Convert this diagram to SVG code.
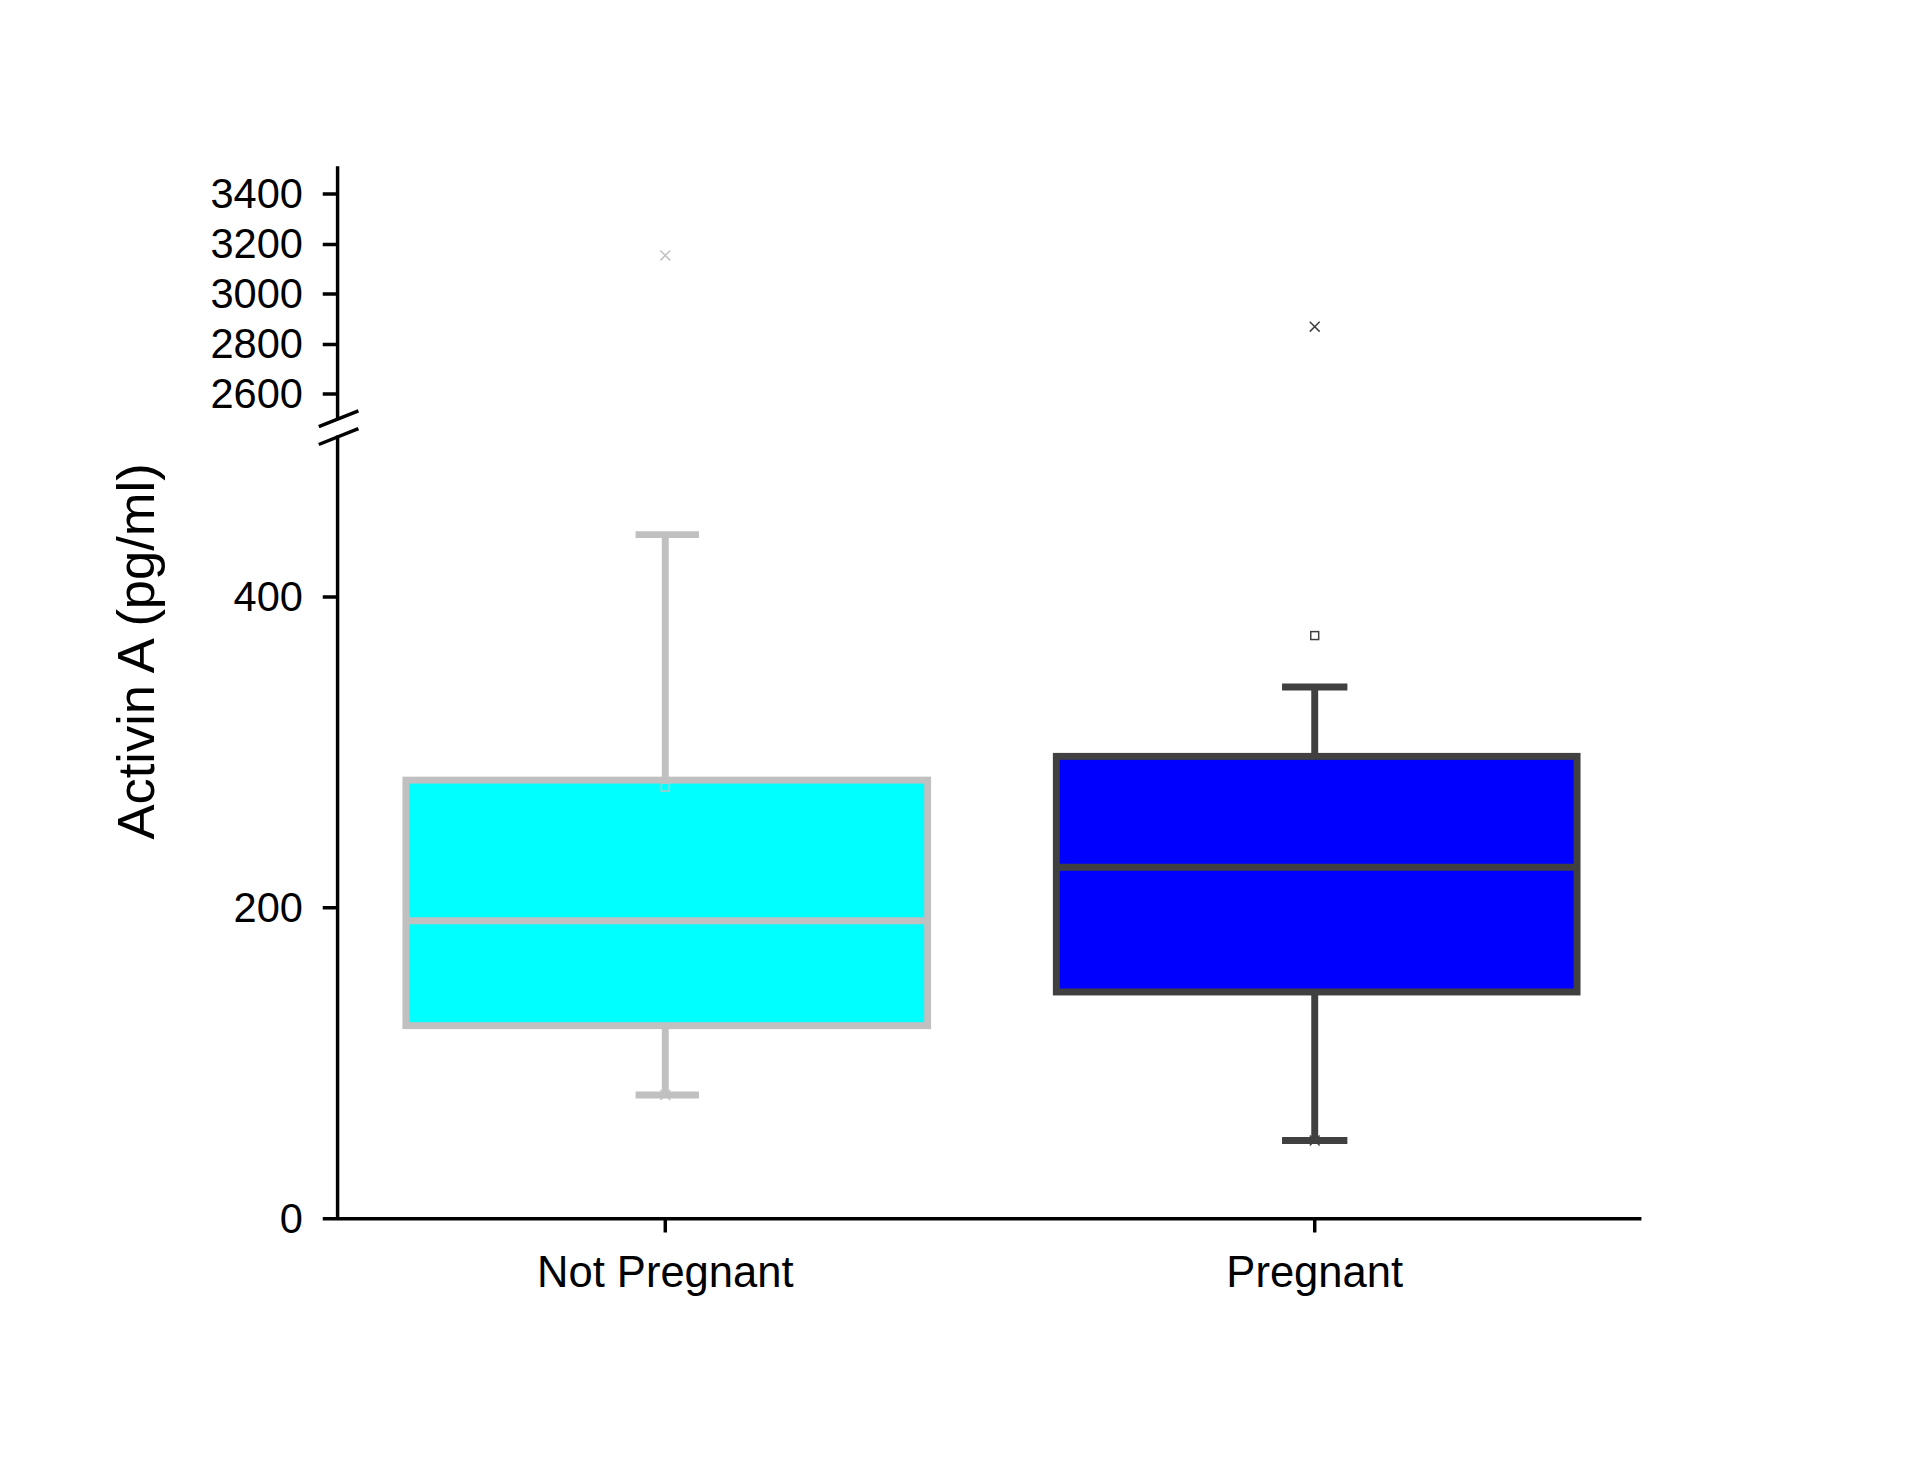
<svg xmlns="http://www.w3.org/2000/svg" width="1910" height="1464" viewBox="0 0 1910 1464">
<style>
text{font-family:"Liberation Sans",Arial,sans-serif;fill:#000}
.t{font-size:42px;text-anchor:end}
.c{font-size:44px;text-anchor:middle}
.ax{stroke:#000;stroke-width:3.5;fill:none}
.g1{stroke:#c0c0c0;stroke-width:7;fill:none}
.g2{stroke:#404040;stroke-width:7;fill:none}
.f1{fill:#00ffff}
.f2{fill:#0000ff}
</style>
<rect width="1910" height="1464" fill="#fff"/>
<g transform="scale(0.99)">
<g id="axes">
<path class="ax" d="M341 168V423M341 440V1231M326 1231H1658M326 196H341M326 247H341M326 297H341M326 348H341M326 398H341M326 603H341M326 917H341M672 1231V1245M1328 1231V1245"/>
<path class="ax" d="M322 431L362 415M322 449L362 433" stroke-width="4"/>
<text class="t" x="306" y="210">3400</text>
<text class="t" x="306" y="261">3200</text>
<text class="t" x="306" y="311">3000</text>
<text class="t" x="306" y="362">2800</text>
<text class="t" x="306" y="412">2600</text>
<text class="t" x="306" y="617">400</text>
<text class="t" x="306" y="931">200</text>
<text class="t" x="306" y="1245">0</text>
<text class="c" x="672" y="1300">Not Pregnant</text>
<text class="c" x="1328" y="1300">Pregnant</text>
<text x="0" y="0" font-size="53" text-anchor="middle" transform="translate(156 658) rotate(-90)">Activin A (pg/ml)</text>
</g>
<g id="not-pregnant">
<path class="g1" d="M672 540V788M672 1036V1106M642 540H706M642 1106H706"/>
<rect x="410" y="788" width="527" height="248" class="g1 f1"/>
<path class="g1" d="M410 930H937"/>
<path d="M667 253L677 263M667 263L677 253" stroke="#c0c0c0" stroke-width="1.5"/>
<rect x="668" y="791" width="8" height="8" fill="none" stroke="#c0c0c0" stroke-width="1.5"/>
<path d="M667 1101L677 1111M667 1111L677 1101" stroke="#c0c0c0" stroke-width="1.5"/>
</g>
<g id="pregnant">
<path class="g2" d="M1328 694V764M1328 1002V1152M1295 694H1361M1295 1152H1361"/>
<rect x="1067" y="764" width="526" height="238" class="g2 f2"/>
<path class="g2" d="M1067 876H1593"/>
<path d="M1323 325L1333 335M1323 335L1333 325" stroke="#404040" stroke-width="1.5"/>
<rect x="1324" y="638" width="8" height="8" fill="none" stroke="#404040" stroke-width="1.5"/>
<path d="M1323 1147L1333 1157M1323 1157L1333 1147" stroke="#404040" stroke-width="1.5"/>
</g>
</g>
</svg>
